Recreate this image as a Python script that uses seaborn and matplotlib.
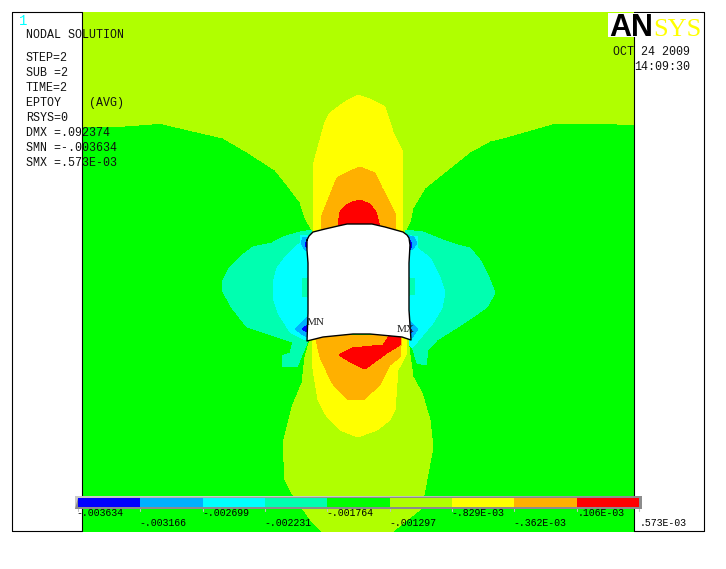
import numpy as np
import matplotlib
matplotlib.use("Agg")
import matplotlib.pyplot as plt
from matplotlib.colors import ListedColormap
import seaborn as sns

# contour band colours, low to high
band_colors = ["#0000ff", "#00b0ff", "#00ffff", "#00ffb0", "#00ff00",
               "#b0ff00", "#ffff00", "#ffb000", "#ff0000"]
legend_values = [-.003634, -.003166, -.002699, -.002231, -.001764,
                 -.001297, -.000829, -.000362, .000106, .000573]
legend_labels = ["-.003634", "-.003166", "-.002699", "-.002231", "-.001764",
                 "-.001297", "-.829E-03", "-.362E-03", ".106E-03", ".573E-03"]

info_lines = ["NODAL SOLUTION", "STEP=2", "SUB =2", "TIME=2", "EPTOY    (AVG)",
              "RSYS=0", "DMX =.092374", "SMN =-.003634", "SMX =.573E-03"]
info_rows = [35, 58, 73, 88, 103, 118, 133, 148, 163]

# contour outlines (screen x, y)
model_box = [(83, 12), (634, 12), (634, 532), (83, 532)]
top_lime = [(83, 12), (634, 12), (634, 125), (617, 124), (552, 124), (503, 138), (490, 141),
            (470, 152), (425, 188), (413, 208), (410, 222), (405, 232), (405, 245), (312, 245),
            (312, 230), (305, 218), (300, 202), (287, 185), (275, 170), (247, 152), (223, 138),
            (180, 128), (163, 124), (152, 124), (125, 126), (83, 127)]
top_yellow = [(313, 240), (313, 228), (314, 162), (325, 122), (330, 113), (345, 102), (358, 95),
              (372, 100), (385, 107), (393, 132), (403, 153), (403, 225), (403, 240)]
top_orange = [(321, 240), (321, 227), (322, 215), (337, 178), (350, 171), (360, 167), (375, 173),
              (382, 188), (395, 213), (396, 230), (396, 240)]
top_red = [(338, 240), (338, 225), (340, 212), (345, 206), (352, 202), (360, 200), (370, 204),
           (376, 212), (380, 227), (380, 240)]

left_teal = [(312, 230), (300, 232), (283, 237), (272, 243), (253, 247), (240, 257), (230, 267),
             (222, 282), (222, 290), (232, 308), (247, 327), (277, 337), (293, 342), (290, 353),
             (282, 356), (282, 367), (297, 367), (302, 355), (307, 343), (312, 300)]
left_cyan = [(308, 235), (300, 235), (300, 243), (287, 255), (277, 268), (273, 283), (273, 298),
             (278, 313), (290, 332), (305, 340), (312, 335), (312, 240)]
left_pocket = [(312, 277), (302, 279), (302, 296), (312, 298)]
left_blue1 = [(309, 237), (303, 237), (301, 243), (305, 250), (309, 251)]
left_blue0 = [(309, 241), (306, 242), (305, 246), (309, 250)]
left_blue3 = [(309, 316), (295, 329), (303, 335), (309, 338)]
left_blue2 = [(309, 324), (302, 329), (309, 333)]

right_teal = [(405, 230), (423, 232), (443, 240), (458, 245), (470, 248), (480, 260), (488, 275),
              (495, 293), (487, 307), (473, 317), (453, 330), (437, 340), (428, 350), (426, 365),
              (417, 363), (412, 346), (405, 340)]
right_cyan = [(405, 235), (418, 237), (417, 248), (430, 258), (440, 277), (445, 293), (442, 308),
              (433, 323), (423, 335), (412, 348), (405, 340)]
right_pocket = [(405, 277), (415, 279), (415, 294), (405, 296)]
right_blue1 = [(405, 235), (414, 237), (417, 243), (412, 250), (405, 250)]
right_blue0 = [(405, 239), (410, 240), (412, 245), (410, 250), (405, 250)]
right_blue3 = [(405, 320), (408, 320), (418, 329), (412, 338), (405, 335)]
right_blue2 = [(405, 326), (409, 327), (412, 330), (410, 335), (405, 335)]

bot_lime = [(310, 335), (310, 340), (305, 357), (302, 383), (292, 407), (283, 443), (285, 480),
            (293, 495), (302, 508), (313, 523), (322, 532), (392, 532), (422, 508), (424, 495),
            (433, 447), (430, 420), (422, 393), (413, 377), (408, 340), (408, 335)]
bot_yellow = [(312, 335), (312, 363), (318, 400), (327, 417), (340, 430), (358, 437), (377, 430),
              (390, 420), (395, 410), (398, 370), (407, 353), (407, 335)]
bot_orange = [(315, 335), (320, 357), (332, 383), (348, 400), (363, 400), (380, 385), (390, 365),
              (400, 357), (402, 335)]
bot_red = [(339, 355), (352, 348), (383, 345), (390, 335), (401, 335), (400, 345), (387, 353),
           (365, 369), (352, 363)]

hole = [(307, 240), (309, 236), (313, 232), (325, 229), (338, 226), (347, 224), (372, 224),
        (385, 227), (403, 232), (407, 235), (409, 238), (410, 245), (409, 263), (409, 310),
        (411, 340), (402, 337), (370, 334), (353, 334), (323, 337), (307, 341), (308, 313),
        (308, 263), (307, 250)]

# paint order, each one on top of the last
layers = [(model_box, 4), (top_lime, 5), (top_yellow, 6), (top_orange, 7), (top_red, 8),
          (left_teal, 3), (left_cyan, 2), (left_pocket, 3), (left_blue1, 1), (left_blue0, 0),
          (left_blue3, 1), (left_blue2, 0),
          (right_teal, 3), (right_cyan, 2), (right_pocket, 3), (right_blue1, 1), (right_blue0, 0),
          (right_blue3, 1), (right_blue2, 0),
          (bot_lime, 5), (bot_yellow, 6), (bot_orange, 7), (bot_red, 8)]

sns.set_style("white")
mono = "Liberation Mono"
palette = sns.color_palette(band_colors)

fig = plt.figure(figsize=(7.26, 5.69), dpi=100)
ax = fig.add_axes([0, 0, 1, 1])
ax.set_xlim(0, 726)
ax.set_ylim(569, 0)
ax.axis("off")

for outline, level in layers:
    xs, ys = zip(*outline)
    ax.fill(xs, ys, color=palette[level], lw=0, antialiased=False)

hx, hy = zip(*hole)
ax.fill(hx, hy, color="white", lw=0, zorder=3)
ax.plot(hx + hx[:1], hy + hy[:1], color="black", lw=1.0, zorder=4)

# white side panels with black frame
for px0, px1 in [(12, 82), (634, 704)]:
    ax.plot([px0, px1], [12, 12], color="black", lw=0.8, zorder=5)
    ax.plot([px0, px1], [531, 531], color="black", lw=0.8, zorder=5)
    ax.plot([px0, px0], [12, 531], color="black", lw=0.8, zorder=5)
    ax.plot([px1, px1], [12, 531], color="black", lw=0.8, zorder=5)

ax.text(19, 21, "1", color="#00ffff", family=mono, fontsize=10, ha="left", va="center", zorder=6)
for line, row in zip(info_lines, info_rows):
    ax.text(26, row, line, color="#111111", family=mono, fontsize=8.4, ha="left", va="center", zorder=6)

ax.text(613, 52, "OCT 24 2009", color="#111111", family=mono, fontsize=8.4, va="center", zorder=6)
ax.text(634, 67, "14:09:30", color="#111111", family=mono, fontsize=8.4, va="center", zorder=6)
ax.text(307, 322, "MN", color="#222222", family="Liberation Serif", fontsize=8, va="center", zorder=6)
ax.text(397, 329, "MX", color="#222222", family="Liberation Serif", fontsize=8, va="center", zorder=6)

# logo
ax.fill([608, 702, 702, 608], [13, 13, 37, 37], color="white", lw=0, zorder=5)
ax.text(609, 36, "AN", color="black", family="Liberation Sans", weight="bold", fontsize=22,
        ha="left", va="baseline", zorder=6)
ax.text(653, 36, "SYS", color="#ffff00", family="Liberation Serif", fontsize=19,
        ha="left", va="baseline", zorder=6)

# legend band: gray bevel, then cells from the heatmap
ax.fill([75, 642, 642, 75], [496, 496, 509, 509], color="#8c8c8c", lw=0, zorder=5)
ax.fill([75, 639, 78, 75], [496, 496, 498, 509], color="#c8c8c8", lw=0, zorder=5)
cell = (639 - 78) / 9
for i, lab in enumerate(legend_labels):
    tx = 78 + i * cell
    ax.plot([tx, tx], [509, 511], color="#c0c0c0", lw=0.8, zorder=5)
    lx = tx - 2 + (i > 0) * 1.5 + (i > 7) * 1.5
    ax.text(lx, 513 if i % 2 == 0 else 523.5, lab, color="black", family=mono, fontsize=7.1,
            va="center", zorder=6)

ax_band = fig.add_axes([78 / 726, 1 - 507 / 569, (639 - 78) / 726, 9 / 569])
sns.heatmap(np.array([legend_values[:-1]]), cmap=ListedColormap(band_colors), cbar=False,
            xticklabels=False, yticklabels=False, ax=ax_band)

fig.savefig("out.png", dpi=100)
